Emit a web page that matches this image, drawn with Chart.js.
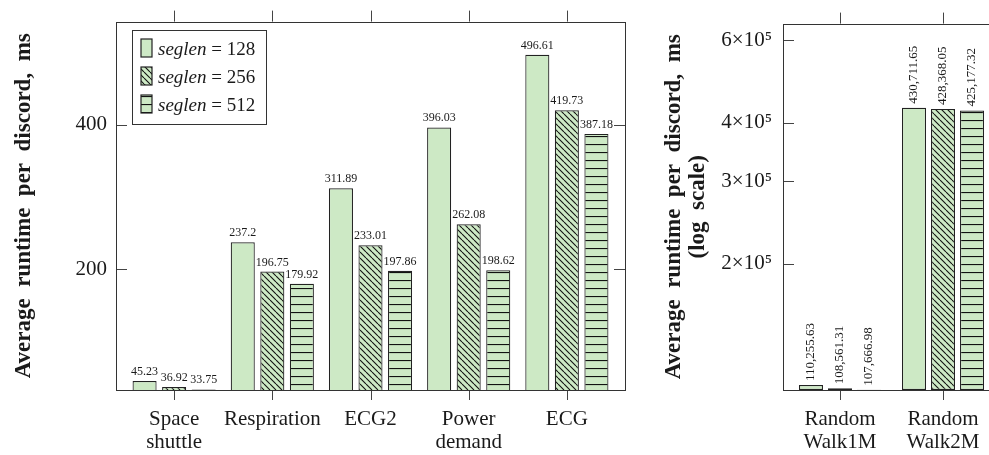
<!DOCTYPE html>
<html><head><meta charset="utf-8">
<script src="https://cdn.jsdelivr.net/npm/chart.js@4.4.0/dist/chart.umd.min.js"></script>
<style>
html,body{margin:0;padding:0;background:#fff;overflow:hidden;width:989px;height:455px;position:relative;}
#c1{position:absolute;left:0;top:0;}
#c2{position:absolute;left:640px;top:0;}
</style></head><body>
<canvas id="c1" width="640" height="455"></canvas>
<canvas id="c2" width="370" height="455"></canvas>
<script>
// ---- data ----
const leftCategories = [["Space","shuttle"],["Respiration"],["ECG2"],["Power","demand"],["ECG"]];
const leftSeg128 = [45.23, 237.2, 311.89, 396.03, 496.61];
const leftSeg256 = [36.92, 196.75, 233.01, 262.08, 419.73];
const leftSeg512 = [33.75, 179.92, 197.86, 198.62, 387.18];
const leftTicks = [200, 400];

const rightCategories = [["Random","Walk1M"],["Random","Walk2M"]];
const rightSeg128 = [110255.63, 430711.65];
const rightSeg256 = [108561.31, 428368.05];
const rightSeg512 = [107666.98, 425177.32];
const rightTicks = [200000, 300000, 400000, 600000];

const seglens = ["128", "256", "512"];
const yTitle = "Average  runtime  per  discord,  ms";
const yTitleLog = "(log  scale)";

// ---- styles ----
const FILL = "#cde9c5";
const EDGE = "#222";
const SERIF = "'Liberation Serif', 'DejaVu Serif', serif";

function makePattern(kind) {
  const s = kind === "diag" ? 6 : 8;
  const c = document.createElement("canvas");
  c.width = s; c.height = s;
  const g = c.getContext("2d");
  g.fillStyle = FILL; g.fillRect(0, 0, s, s);
  g.strokeStyle = "#111"; g.lineWidth = kind === "diag" ? 1.1 : 1.2;
  g.beginPath();
  if (kind === "diag") {
    for (let k = -1; k <= 1; k++) { g.moveTo(k * s, 0); g.lineTo(k * s + s, s); }
  } else {
    g.moveTo(0, 0.5); g.lineTo(s, 0.5);
  }
  g.stroke();
  return g.createPattern(c, "repeat");
}
const fills = [FILL, makePattern("diag"), makePattern("horiz")];

function toXY(arr) { return arr.map((v, i) => ({ x: i, y: v })); }

function frameTicks(xCount) {
  return {
    id: "frameTicks",
    afterDatasetsDraw(chart) {
      const { ctx, chartArea: a, scales } = chart;
      const x = scales.x, y = scales.y;
      ctx.save();
      ctx.strokeStyle = "#444"; ctx.lineWidth = 1;
      ctx.beginPath();
      for (let i = 0; i < xCount; i++) {
        const px = Math.round(x.getPixelForValue(i)) + 0.5;
        ctx.moveTo(px, a.top); ctx.lineTo(px, a.top - 11);
        ctx.moveTo(px, a.bottom); ctx.lineTo(px, a.bottom + 10);
      }
      y.ticks.forEach(t => {
        const py = Math.round(y.getPixelForValue(t.value)) + 0.5;
        ctx.moveTo(a.left, py); ctx.lineTo(a.left + 11, py);
        ctx.moveTo(a.right, py); ctx.lineTo(a.right - 11, py);
      });
      ctx.stroke();
      ctx.strokeStyle = "#333";
      ctx.strokeRect(Math.round(a.left) + 0.5, Math.round(a.top) + 0.5,
        Math.round(a.right - a.left), Math.round(a.bottom - a.top));
      ctx.restore();
    }
  };
}

function valueLabels(rotated, fmt, size) {
  return {
    id: "valueLabels",
    afterDatasetsDraw(chart) {
      const ctx = chart.ctx;
      ctx.save();
      ctx.fillStyle = "#1a1a1a";
      ctx.font = size + "px " + SERIF;
      chart.data.datasets.forEach((ds, di) => {
        const meta = chart.getDatasetMeta(di);
        meta.data.forEach((el, i) => {
          const txt = fmt(ds.data[i].y);
          if (rotated) {
            ctx.save();
            ctx.translate(el.x, el.y - 4);
            ctx.rotate(-Math.PI / 2);
            ctx.textAlign = "left"; ctx.textBaseline = "middle";
            ctx.fillText(txt, 0, 0);
            ctx.restore();
          } else {
            ctx.textAlign = "center"; ctx.textBaseline = "alphabetic";
            ctx.fillText(txt, el.x, el.y - 6);
          }
        });
      });
      ctx.restore();
    }
  };
}

const legendBox = {
  id: "legendBox",
  afterDraw(chart) {
    const ctx = chart.ctx;
    const L = 132, T = 30, W = 134, H = 94;
    ctx.save();
    ctx.fillStyle = "#fff"; ctx.fillRect(L, T, W, H);
    ctx.strokeStyle = "#333"; ctx.lineWidth = 1;
    ctx.strokeRect(L + 0.5, T + 0.5, W, H);
    const rows = [48, 76, 104];
    rows.forEach((cy, i) => {
      ctx.fillStyle = fills[i];
      ctx.fillRect(141, cy - 9, 11, 18);
      ctx.strokeStyle = EDGE; ctx.lineWidth = 1.2;
      ctx.strokeRect(141, cy - 9, 11, 18);
      ctx.fillStyle = "#1a1a1a";
      ctx.textBaseline = "alphabetic"; ctx.textAlign = "left";
      ctx.font = "italic 19px " + SERIF;
      const base = cy + 7;
      ctx.fillText("seglen", 158, base);
      const w = ctx.measureText("seglen").width;
      ctx.font = "19px " + SERIF;
      ctx.fillText(" = " + seglens[i], 158 + w, base);
    });
    ctx.restore();
  }
};

function datasets(a, b, c) {
  return [a, b, c].map((arr, i) => ({
    label: "seglen = " + seglens[i],
    data: toXY(arr),
    backgroundColor: fills[i],
    borderColor: EDGE,
    borderWidth: 1.2,
    borderSkipped: false,
    clip: { left: 5, top: 5, right: 5, bottom: 0 }
  }));
}

Chart.defaults.font.family = SERIF;
Chart.defaults.color = "#1a1a1a";

// ---- left chart ----
new Chart(document.getElementById("c1"), {
  type: "bar",
  data: { datasets: datasets(leftSeg128, leftSeg256, leftSeg512) },
  options: {
    responsive: false, animation: false,
    layout: { padding: { top: 18, right: 15, left: 0, bottom: 0 } },
    datasets: { bar: { categoryPercentage: 0.903, barPercentage: 0.814 } },
    plugins: { legend: { display: false }, tooltip: { enabled: false } },
    scales: {
      x: {
        type: "linear", min: -0.592, max: 4.592, offset: false,
        afterBuildTicks: s => { s.ticks = leftCategories.map((_, i) => ({ value: i })); },
        afterFit: s => { s.height = 65; },
        grid: { display: false, drawTicks: false, offset: false },
        border: { display: false },
        ticks: { padding: 18, autoSkip: false, maxRotation: 0,
          font: { size: 21, lineHeight: 1.1 },
          callback: v => leftCategories[v] }
      },
      y: {
        type: "linear", min: 32.9, max: 542.5,
        afterBuildTicks: s => { s.ticks = leftTicks.map(v => ({ value: v })); },
        afterFit: s => { s.width = 116; },
        grid: { display: false, drawTicks: false },
        border: { display: false },
        ticks: { padding: 9, font: { size: 21 } },
        title: { display: true, text: yTitle, font: { size: 23, weight: "bold", lineHeight: 1.1 },
          padding: { top: 11, bottom: 0 } }
      }
    }
  },
  plugins: [frameTicks(leftCategories.length), valueLabels(false, v => String(v), 12), legendBox]
});

// ---- right chart ----
const fmtComma = v => v.toLocaleString("en-US", { minimumFractionDigits: 2, maximumFractionDigits: 2 });
new Chart(document.getElementById("c2"), {
  type: "bar",
  data: { datasets: datasets(rightSeg128, rightSeg256, rightSeg512) },
  options: {
    responsive: false, animation: false,
    layout: { padding: { top: 18, right: 10, left: 0, bottom: 0 } },
    datasets: { bar: { categoryPercentage: 0.845, barPercentage: 0.828 } },
    plugins: { legend: { display: false }, tooltip: { enabled: false } },
    scales: {
      x: {
        type: "linear", min: -0.553, max: 1.553, offset: false,
        afterBuildTicks: s => { s.ticks = rightCategories.map((_, i) => ({ value: i })); },
        afterFit: s => { s.height = 65; },
        grid: { display: false, drawTicks: false, offset: false },
        border: { display: false },
        ticks: { padding: 18, autoSkip: false, maxRotation: 0,
          font: { size: 21, lineHeight: 1.1 },
          callback: v => rightCategories[v] }
      },
      y: {
        type: "logarithmic", min: 107600, max: 651500,
        afterBuildTicks: s => { s.ticks = rightTicks.map(v => ({ value: v })); },
        afterFit: s => { s.width = 143; },
        grid: { display: false, drawTicks: false },
        border: { display: false },
        ticks: { padding: 11, font: { size: 21 }, callback: v => (v / 100000) + "×10⁵" },
        title: { display: true, text: [yTitle, yTitleLog], font: { size: 23, weight: "bold", lineHeight: 1.05 },
          padding: { top: 22, bottom: 0 } }
      }
    }
  },
  plugins: [frameTicks(rightCategories.length), valueLabels(true, fmtComma, 13)]
});
</script>
</body></html>
